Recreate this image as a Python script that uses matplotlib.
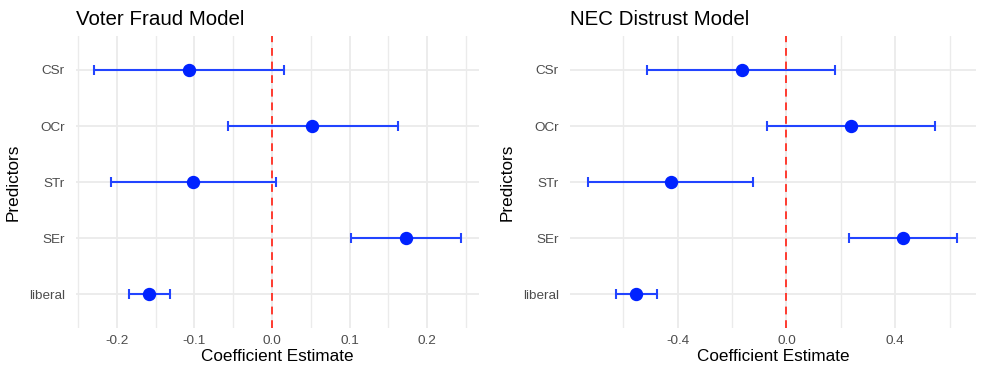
import numpy as np
import matplotlib.pyplot as plt
from matplotlib.ticker import MultipleLocator

plt.rcParams['font.family'] = ['Liberation Sans', 'DejaVu Sans']

predictors = ['liberal', 'SEr', 'STr', 'OCr', 'CSr']

# Voter Fraud Model
fraud_est  = [-0.158, 0.172, -0.102, 0.052, -0.107]
fraud_low  = [-0.184, 0.102, -0.208, -0.057, -0.229]
fraud_high = [-0.131, 0.243, 0.005, 0.162, 0.015]

# NEC Distrust Model
nec_est  = [-0.553, 0.429, -0.426, 0.239, -0.164]
nec_low  = [-0.627, 0.232, -0.728, -0.071, -0.511]
nec_high = [-0.477, 0.629, -0.124, 0.548, 0.180]

fig = plt.figure(figsize=(9.85, 3.76), dpi=100)
ax1 = fig.add_axes([0.0772, 0.1287, 0.409, 0.7745])
ax2 = fig.add_axes([0.5787, 0.1287, 0.412, 0.7745])

def coef_plot(ax, est, low, high, title, major, minor):
    y = np.arange(1, len(predictors) + 1)
    est = np.array(est)
    low = np.array(low)
    high = np.array(high)
    ax.errorbar(est, y, xerr=[est - low, high - est], fmt='none',
                ecolor='#2244ff', elinewidth=1.5, capsize=3.9, capthick=1.5, zorder=3)
    ax.plot(est, y, 'o', color='#0022ff', markersize=8.6, zorder=4)
    ax.axvline(0, color='#ff3b2f', linestyle=(0, (4, 3)), linewidth=1.4, zorder=5)

    lo, hi = low.min(), high.max()
    pad = 0.05 * (hi - lo)
    ax.set_xlim(lo - pad, hi + pad)
    ax.set_ylim(0.4, len(predictors) + 0.6)
    ax.set_yticks(y)
    ax.set_yticklabels(predictors)
    ax.xaxis.set_major_locator(MultipleLocator(major))
    ax.xaxis.set_minor_locator(MultipleLocator(minor))
    ax.xaxis.set_major_formatter(lambda v, p: f"{v:.1f}".replace('-0.0', '0.0'))

    ax.grid(which='major', color='#ebebeb', linewidth=1.3, zorder=0)
    ax.grid(which='minor', axis='x', color='#ebebeb', linewidth=1.0, zorder=0)
    ax.set_axisbelow(True)
    for s in ax.spines.values():
        s.set_visible(False)
    ax.tick_params(which='both', length=0)
    ax.tick_params(axis='x', labelsize=9.7, labelcolor='#4d4d4d', pad=5)
    ax.tick_params(axis='y', labelsize=9.7, labelcolor='#4d4d4d', pad=8)

    ax.set_xlabel('Coefficient Estimate', fontsize=12.3, labelpad=2)
    ax.set_ylabel('Predictors', fontsize=12.3, labelpad=6)
    ax.set_title(title, loc='left', fontsize=14.8, pad=8)

coef_plot(ax1, fraud_est, fraud_low, fraud_high, 'Voter Fraud Model', 0.1, 0.05)
coef_plot(ax2, nec_est, nec_low, nec_high, 'NEC Distrust Model', 0.4, 0.2)

fig.savefig('out.png', dpi=100)
